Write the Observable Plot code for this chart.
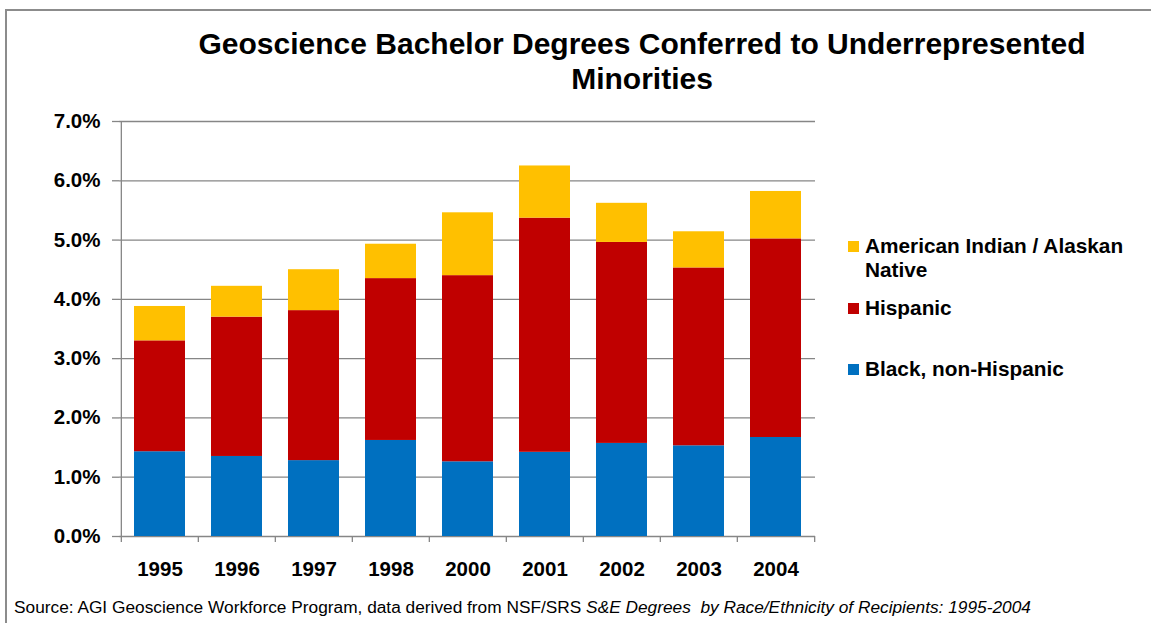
<!DOCTYPE html>
<html>
<head>
<meta charset="utf-8">
<script src="https://cdn.jsdelivr.net/npm/d3@7"></script>
<script src="https://cdn.jsdelivr.net/npm/@observablehq/plot@0.6"></script>
<style>
  html, body { margin: 0; padding: 0; background: #fff; }
  #wrap { position: relative; width: 1151px; height: 623px; overflow: hidden; font-family: "Liberation Sans", Arial, sans-serif; }
  #border { position: absolute; left: 5px; top: 9px; width: 1200px; height: 700px; border-left: 2px solid #8c8c8c; border-top: 2px solid #8c8c8c; }
  #title { position: absolute; left: 0; top: 26px; width: 1284px; text-align: center; font-weight: bold; font-size: 30px; line-height: 35px; color: #000; white-space: nowrap; }
  #chart { position: absolute; left: 0; top: 0; }
  .leg { position: absolute; left: 848px; font-weight: bold; font-size: 20.8px; line-height: 24px; color: #000; }
  .leg .sw { position: absolute; left: 0; top: 7px; width: 11px; height: 11px; }
  .leg .tx { position: absolute; left: 17px; top: 0; white-space: nowrap; }
  #source { position: absolute; left: 14px; top: 597px; font-size: 17.3px; line-height: 20px; color: #000; white-space: nowrap; }
</style>
</head>
<body>
<div id="wrap">
  <div id="border"></div>
  <div id="chart"></div>
  <div id="title">Geoscience Bachelor Degrees Conferred to Underrepresented<br>Minorities</div>
  <div id="legend"></div>
  <div id="source">Source: AGI Geoscience Workforce Program, data derived from NSF/SRS <i>S&amp;E Degrees&nbsp; by Race/Ethnicity of Recipients: 1995-2004</i></div>
</div>
<script>
const years = ["1995", "1996", "1997", "1998", "2000", "2001", "2002", "2003", "2004"];
const black = [1.43, 1.35, 1.28, 1.62, 1.26, 1.42, 1.57, 1.53, 1.67];
const hispanic = [1.87, 2.35, 2.53, 2.73, 3.14, 3.95, 3.39, 3.00, 3.35];
const amIndian = [0.58, 0.52, 0.69, 0.58, 1.06, 0.88, 0.66, 0.61, 0.80];
const seriesNames = ["Black, non-Hispanic", "Hispanic", "American Indian / Alaskan Native"];
const seriesColors = ["#0070C0", "#C00000", "#FFC000"];
const yTicks = [0, 1, 2, 3, 4, 5, 6, 7];

const seriesValues = [black, hispanic, amIndian];
const data = [];
seriesNames.forEach((s, si) => {
  years.forEach((y, i) => data.push({year: y, series: s, value: seriesValues[si][i]}));
});

const W = 1151, H = 623;
const mL = 119, mR = 336, mT = 121, mB = 87;
const step = (W - mL - mR) / years.length;

const chart = Plot.plot({
  width: W,
  height: H,
  marginLeft: mL,
  marginRight: mR,
  marginTop: mT,
  marginBottom: mB,
  style: {fontFamily: '"Liberation Sans", Arial, sans-serif', background: "transparent", overflow: "visible"},
  x: {domain: years, paddingInner: 0.34, paddingOuter: 0.17, label: null},
  y: {domain: [0, 7], label: null},
  color: {domain: seriesNames, range: seriesColors},
  marks: [
    Plot.ruleY(yTicks, {stroke: "#868686", strokeWidth: 1.3}),
    Plot.barY(data, Plot.stackY({order: seriesNames, x: "year", y: "value", fill: "series"})),
    Plot.ruleX(years, {x: d => d, y1: 0, y2: -0.1, dx: -step / 2, stroke: "#868686", strokeWidth: 1.3}),
    Plot.ruleX(years.slice(-1), {x: d => d, y1: 0, y2: -0.1, dx: step / 2, stroke: "#868686", strokeWidth: 1.3}),
    Plot.ruleX(years.slice(0, 1), {x: d => d, y1: 0, y2: 7, dx: -step / 2, stroke: "#868686", strokeWidth: 1.3}),
    Plot.axisY({ticks: yTicks, tickSize: 7, tickPadding: 12, tickFormat: d => d.toFixed(1) + "%", stroke: "#868686", strokeWidth: 1.3, fontSize: 20.5, fontWeight: "bold", fill: "#000"}),
    Plot.axisX({tickSize: 0, tickPadding: 25, fontSize: 20.5, fontWeight: "bold", fill: "#000"})
  ]
});
document.getElementById("chart").appendChild(chart);

// Legend
const legendItems = [
  {name: "American Indian / Alaskan<br>Native", color: seriesColors[2], top: 234},
  {name: "Hispanic", color: seriesColors[1], top: 296},
  {name: "Black, non-Hispanic", color: seriesColors[0], top: 357}
];
const legend = document.getElementById("legend");
legendItems.forEach(it => {
  const d = document.createElement("div");
  d.className = "leg";
  d.style.top = it.top + "px";
  d.innerHTML = `<div class="sw" style="background:${it.color}"></div><div class="tx">${it.name}</div>`;
  legend.appendChild(d);
});
</script>
</body>
</html>
